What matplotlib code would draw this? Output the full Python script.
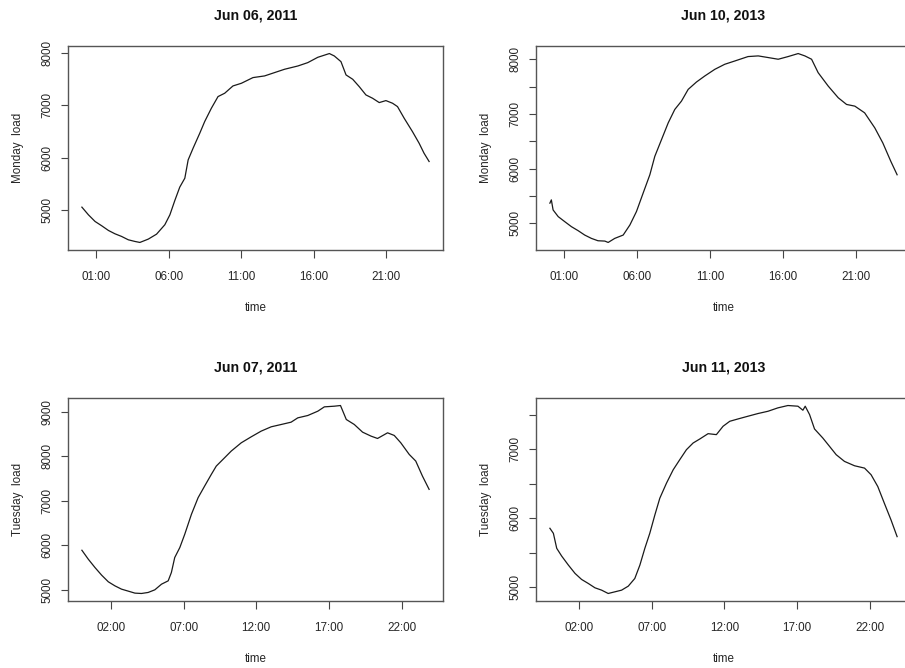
import matplotlib
matplotlib.use("Agg")
import matplotlib.pyplot as plt

# values (hour of day, load)
mon11_hours = [0.0, 0.45, 0.91, 1.37, 1.83, 2.28, 2.74, 3.2, 3.66, 4.0, 4.58, 5.15, 5.72,
               6.07, 6.41, 6.75, 7.1, 7.33, 7.67, 8.13, 8.47, 8.93, 9.39, 9.85, 10.42, 11.0,
               11.8, 12.6, 13.29, 13.98, 14.9, 15.58, 16.27, 17.07, 17.41, 17.87, 18.22,
               18.68, 19.13, 19.59, 20.05, 20.51, 20.97, 21.43, 21.77, 22.23, 22.8, 23.26,
               23.6, 23.95]
mon11_load = [5050, 4903, 4775, 4692, 4603, 4539, 4488, 4424, 4392, 4373, 4437, 4532, 4712,
              4903, 5177, 5433, 5605, 5956, 6180, 6467, 6691, 6946, 7170, 7234, 7374, 7425,
              7534, 7566, 7630, 7694, 7757, 7821, 7923, 7995, 7949, 7840, 7585,
              7502, 7361, 7202, 7138, 7055, 7093, 7042, 6978, 6755, 6499, 6276,
              6084, 5925]

mon13_hours = [0.0, 0.1, 0.22, 0.57, 1.02, 1.48, 1.94, 2.39, 2.85, 3.3, 3.77, 4.0, 4.45,
               5.03, 5.49, 5.94, 6.4, 6.86, 7.2, 7.66, 8.12, 8.57, 9.03, 9.49, 10.06, 10.63,
               11.32, 12.0, 12.7, 13.6, 14.3, 14.98, 15.67, 16.35, 17.04, 17.5, 17.96,
               18.41, 19.1, 19.79, 20.36, 20.93, 21.6, 22.3, 22.85, 23.4, 23.83]
mon13_load = [5370, 5430, 5246, 5124, 5032, 4940, 4867, 4787, 4726, 4683, 4677, 4652, 4726,
              4787, 4971, 5216, 5554, 5889, 6225, 6531, 6837, 7082, 7235, 7449, 7584, 7694,
              7816, 7908, 7969, 8049, 8061, 8031, 8000, 8049, 8104, 8061, 8000,
              7755, 7510, 7296, 7174, 7143, 7021, 6745, 6470, 6133, 5889]

tue11_hours = [0.0, 0.44, 0.9, 1.36, 1.82, 2.27, 2.73, 3.19, 3.65, 4.1, 4.56, 5.02, 5.48,
               5.94, 6.16, 6.39, 6.74, 7.08, 7.54, 8.0, 8.45, 8.91, 9.25, 9.71, 10.28, 10.97,
               11.66, 12.34, 13.03, 13.72, 14.4, 14.86, 15.55, 16.24, 16.69, 17.38, 17.8,
               18.2, 18.75, 19.32, 19.9, 20.35, 21.04, 21.5, 21.95, 22.53, 22.98, 23.44,
               23.9]
tue11_load = [5893, 5692, 5505, 5333, 5184, 5094, 5019, 4975, 4930, 4922, 4945, 5004, 5131,
              5206, 5393, 5729, 5953, 6252, 6700, 7074, 7335, 7597, 7783, 7933, 8120, 8306,
              8441, 8568, 8665, 8717, 8769, 8866, 8919, 9016, 9113, 9128, 9143,
              8829, 8717, 8545, 8456, 8403, 8530, 8471, 8306, 8045, 7896, 7559,
              7260]

tue13_hours = [0.0, 0.24, 0.47, 0.81, 1.27, 1.73, 2.18, 2.64, 3.1, 3.56, 4.01, 4.47, 4.93,
               5.39, 5.84, 6.19, 6.53, 6.87, 7.22, 7.56, 8.02, 8.48, 8.93, 9.39, 9.85, 10.31,
               10.88, 11.45, 11.91, 12.37, 12.94, 13.62, 14.31, 15.0, 15.68, 16.37, 17.06,
               17.4, 17.56, 17.86, 18.2, 18.77, 19.23, 19.69, 20.26, 20.95, 21.64, 22.09,
               22.55, 23.0, 23.46, 23.88]
tue13_load = [5856, 5783, 5566, 5454, 5324, 5203, 5116, 5058, 4995, 4961, 4913, 4937, 4961,
              5019, 5130, 5324, 5566, 5783, 6049, 6291, 6509, 6702, 6847, 6992, 7089, 7147,
              7224, 7210, 7331, 7403, 7437, 7476, 7515, 7548, 7597, 7631, 7621,
              7563, 7621, 7500, 7292, 7161, 7041, 6920, 6823, 6760, 6726, 6630,
              6460, 6219, 5977, 5735]

titles = ["Jun 06, 2011", "Jun 10, 2013", "Jun 07, 2011", "Jun 11, 2013"]
ylabels = ["Monday  load", "Monday  load", "Tuesday  load", "Tuesday  load"]
xtick_hours_top = [1, 6, 11, 16, 21]
xtick_hours_bottom = [2, 7, 12, 17, 22]
yticks = [
    [5000, 6000, 7000, 8000],
    [5000, 5500, 6000, 6500, 7000, 7500, 8000],
    [5000, 6000, 7000, 8000, 9000],
    [5000, 5500, 6000, 6500, 7000, 7500],
]

plt.rcParams['font.family'] = ['Liberation Sans', 'DejaVu Sans']
txt = '#262626'
W, H = 905, 668

fig = plt.figure(figsize=(W / 100, H / 100), dpi=100)
fig.patch.set_facecolor('white')

# axes boxes in pixels: left, top, width, height (right panels run past the edge)
boxes = [(68, 46, 375, 204), (536, 46, 375, 204),
         (68, 398, 375, 203), (536, 398, 375, 203)]
series = [(mon11_hours, mon11_load), (mon13_hours, mon13_load),
          (tue11_hours, tue11_load), (tue13_hours, tue13_load)]

for i, (box, (hrs, load)) in enumerate(zip(boxes, series)):
    l, t, w, h = box
    ax = fig.add_axes([l / W, 1 - (t + h) / H, w / W, h / H])
    ax.plot(hrs, load, color='#1a1a1a', lw=0.9)
    ax.margins(x=0.04, y=0.04)

    xt = xtick_hours_top if i < 2 else xtick_hours_bottom
    ax.set_xticks(xt)
    ax.set_xticklabels([f"{x:02d}:00" for x in xt])
    ax.set_yticks(yticks[i])
    ax.set_yticklabels([str(v) if v % 1000 == 0 else "" for v in yticks[i]],
                       rotation=90, va='center')

    ax.tick_params(direction='out', length=5.4, width=0.8, color='#444444',
                   labelsize=8.4, labelcolor=txt)
    ax.tick_params(axis='x', pad=10)
    ax.tick_params(axis='y', pad=5)
    for sp in ax.spines.values():
        sp.set_color('#555555')
        sp.set_linewidth(1.0)
    if l + w > W:
        ax.spines['right'].set_visible(False)

    ax.set_xlabel("time", fontsize=8.4, color=txt)
    ax.xaxis.set_label_coords(0.5, -58 / h)
    ax.xaxis.label.set_va('center')
    ax.set_ylabel(ylabels[i], fontsize=8.4, color=txt)
    ax.yaxis.set_label_coords(-50 / w, 0.5)
    ax.yaxis.label.set_va('center')

    ax.text(0.5, 1 + 31 / h, titles[i], transform=ax.transAxes, ha='center', va='center',
            fontsize=10.2, fontweight='bold', color='#111111')

fig.savefig("out.png", dpi=100)
